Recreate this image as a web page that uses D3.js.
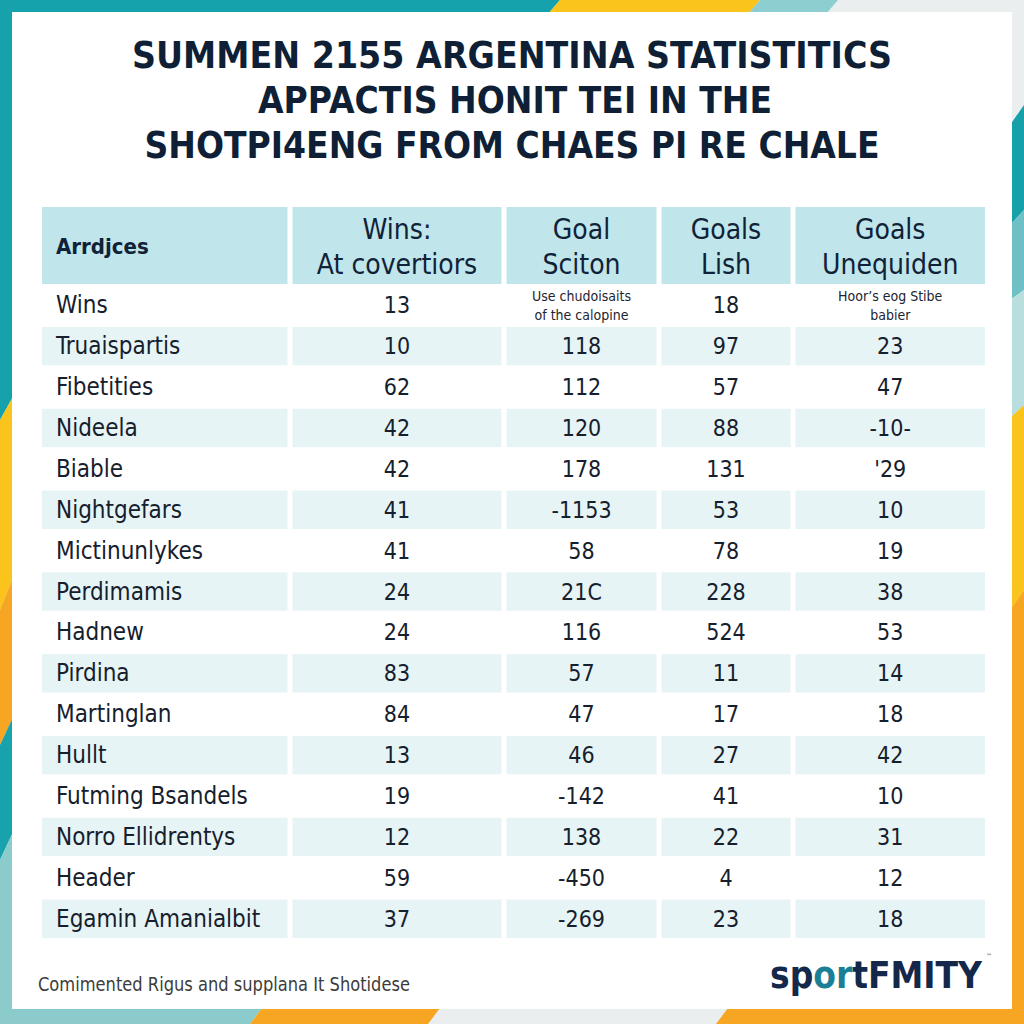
<!DOCTYPE html>
<html>
<head>
<meta charset="utf-8">
<script src="https://cdn.jsdelivr.net/npm/d3@7"></script>
<style>
  html, body { margin: 0; padding: 0; background: #ffffff; }
  svg { display: block; }
</style>
</head>
<body>
<script>
// ---------------- DATA ----------------
const titleLines = [
  "SUMMEN 2155 ARGENTINA STATISTITICS",
  "APPACTIS HONIT TEI IN THE",
  "SHOTPI4ENG FROM CHAES PI RE CHALE"
];
const headerLabels = [
  ["Arrdjces"],
  ["Wins:", "At covertiors"],
  ["Goal", "Sciton"],
  ["Goals", "Lish"],
  ["Goals", "Unequiden"]
];
const rowLabels = [
  "Wins", "Truaispartis", "Fibetities", "Nideela", "Biable", "Nightgefars",
  "Mictinunlykes", "Perdimamis", "Hadnew", "Pirdina", "Martinglan", "Hullt",
  "Futming Bsandels", "Norro Ellidrentys", "Header", "Egamin Amanialbit"
];
const winsValues = ["13","10","62","42","42","41","41","24","24","83","84","13","19","12","59","37"];
const goalSciton = [["Use chudoisaits","of the calopine"],"118","112","120","178","-1153","58","21C","116","57","47","46","-142","138","-450","-269"];
const goalsLish = ["18","97","57","88","131","53","78","228","524","11","17","27","41","22","4","23"];
const goalsUnequiden = [["Hoor’s eog Stibe","babier"],"23","47","-10-","'29","10","19","38","53","14","18","42","10","31","12","18"];
const footerText = "Comimented Rigus and supplana It Shotidese";
const logoParts = [["sp", "#13284a"], ["or", "#1b7f95"], ["tFMITY", "#13284a"]];

// ---------------- LAYOUT ----------------
const W = 1024, H = 1024;
const colEdges = [42, 290, 504, 659, 793, 985];
const colGap = 5;
const headerTop = 207, headerBottom = 286;
const tableBottom = 938;
const navy = "#0f2238";
const bodyFont = "'DejaVu Sans Condensed', 'Liberation Sans Narrow', 'Open Sans', sans-serif";

const svg = d3.select("body").append("svg").attr("width", W).attr("height", H);

// background decorative frame
const bg = svg.append("g");
bg.append("rect").attr("width", W).attr("height", H).attr("fill", "#ebeeee");
const poly = (pts, fill) => bg.append("polygon").attr("points", pts.map(p => p.join(",")).join(" ")).attr("fill", fill);
// top band
poly([[0,0],[560,0],[548,14],[0,14]], "#15a2ac");
poly([[560,0],[760,0],[748,14],[548,14]], "#fbc41c");
poly([[760,0],[838,0],[826,14],[748,14]], "#8dcfd1");
// left strip
poly([[0,0],[14,0],[14,395],[0,420]], "#16a1ab");
poly([[0,420],[14,395],[14,575],[0,610]], "#fbc41c");
poly([[0,610],[14,575],[14,715],[0,745]], "#f6a623");
poly([[0,745],[14,715],[14,830],[0,860]], "#18a3ac");
poly([[0,860],[14,830],[14,1024],[0,1024]], "#8ccbcc");
// right strip
poly([[1010,125],[1024,105],[1024,210],[1010,225]], "#15a0aa");
poly([[1010,225],[1024,210],[1024,290],[1010,300]], "#6fc0c4");
poly([[1010,300],[1024,290],[1024,405],[1010,418]], "#b8dede");
poly([[1010,418],[1024,405],[1024,590],[1010,610]], "#fbc41c");
poly([[1010,610],[1024,590],[1024,1024],[1010,1024]], "#f6a623");
// bottom strip
poly([[0,1008],[262,1008],[250,1024],[0,1024]], "#8ccbcc");
poly([[262,1008],[440,1008],[428,1024],[250,1024]], "#f6a623");
poly([[728,1008],[1024,1008],[1024,1024],[716,1024]], "#f6a623");

// white card
svg.append("rect").attr("x", 12).attr("y", 12).attr("width", 1000).attr("height", 997)
  .attr("fill", "#ffffff");

// title
const titleY = d3.scalePoint().domain(d3.range(titleLines.length)).range([68, 158]);
const titleWidths = [760, 514, 735];
const titleCx = [512, 515, 512];
svg.append("g").selectAll("text").data(titleLines).join("text")
  .attr("x", (d, i) => titleCx[i])
  .attr("y", (d, i) => titleY(i))
  .attr("text-anchor", "middle")
  .attr("font-family", "'DejaVu Sans', sans-serif")
  .attr("font-weight", 700)
  .attr("font-size", 38)
  .attr("fill", "#0f1f35")
  .attr("textLength", (d, i) => titleWidths[i])
  .attr("lengthAdjust", "spacingAndGlyphs")
  .text(d => d);

// columns
const cols = d3.range(headerLabels.length).map(i => ({
  x0: colEdges[i] + (i === 0 ? 0 : colGap / 2),
  x1: colEdges[i + 1] - (i === headerLabels.length - 1 ? 0 : colGap / 2)
}));
cols.forEach(c => c.cx = (c.x0 + c.x1) / 2);

// header
const hdr = svg.append("g");
hdr.selectAll("rect").data(cols).join("rect")
  .attr("x", d => d.x0).attr("y", headerTop)
  .attr("width", d => d.x1 - d.x0).attr("height", headerBottom - headerTop - 2)
  .attr("fill", "#c0e5ea");
headerLabels.forEach((lines, i) => {
  if (i === 0) {
    hdr.append("text").attr("x", 56).attr("y", 254)
      .attr("font-family", bodyFont).attr("font-weight", 700).attr("font-size", 22)
      .attr("fill", navy).text(lines[0]);
  } else {
    lines.forEach((t, j) => {
      hdr.append("text").attr("x", cols[i].cx).attr("y", 239 + j * 35)
        .attr("text-anchor", "middle")
        .attr("font-family", bodyFont).attr("font-size", 28)
        .attr("fill", navy).text(t);
    });
  }
});

// rows
const y = d3.scaleBand().domain(d3.range(rowLabels.length)).range([headerBottom, tableBottom]).paddingInner(0.06);
const body = svg.append("g");
rowLabels.forEach((lab, r) => {
  const top = y(r);
  if (r % 2 === 1) {
    body.selectAll(null).data(cols).join("rect")
      .attr("x", d => d.x0).attr("y", top)
      .attr("width", d => d.x1 - d.x0).attr("height", y.bandwidth())
      .attr("fill", "#e7f4f6");
  }
  const cy = top + y.bandwidth() / 2 + 8;
  body.append("text").attr("x", 56).attr("y", cy)
    .attr("font-family", bodyFont).attr("font-size", 24).attr("fill", "#15202c").text(lab);
  const vals = [winsValues[r], goalSciton[r], goalsLish[r], goalsUnequiden[r]];
  vals.forEach((v, c) => {
    const col = cols[c + 1];
    if (Array.isArray(v)) {
      v.forEach((t, j) => body.append("text")
        .attr("x", col.cx).attr("y", top + y.bandwidth() / 2 - 4 + j * 19)
        .attr("text-anchor", "middle").attr("font-family", bodyFont)
        .attr("font-size", 14).attr("fill", "#1d2430").text(t));
    } else {
      body.append("text").attr("x", col.cx).attr("y", cy)
        .attr("text-anchor", "middle").attr("font-family", bodyFont)
        .attr("font-size", 23).attr("fill", "#15202c").text(v);
    }
  });
});

// footer
svg.append("text").attr("x", 38).attr("y", 991)
  .attr("font-family", bodyFont).attr("font-size", 19).attr("fill", "#3c3c3c")
  .attr("textLength", 372).attr("lengthAdjust", "spacingAndGlyphs")
  .text(footerText);

// logo: coloured parts laid out at natural width, then the group is squeezed to fit
const logoG = svg.append("g");
const logoTexts = logoParts.map(p => logoG.append("text")
  .attr("y", 0).attr("font-family", "'DejaVu Sans', sans-serif").attr("font-weight", 700)
  .attr("font-size", 37).attr("fill", p[1]).text(p[0]));
const natural = logoTexts.map(t => t.node().getComputedTextLength());
let nx = 0;
logoTexts.forEach((t, i) => { t.attr("x", nx); nx += natural[i]; });
const logoWidth = 212;
const k = logoWidth / nx;
logoG.attr("transform", `translate(770,988) scale(${k},1)`);
svg.append("text").attr("x", 770 + logoWidth + 4).attr("y", 958).attr("font-family", "'DejaVu Sans', sans-serif")
  .attr("font-size", 6).attr("fill", "#13284a").text("™");
</script>
</body>
</html>
